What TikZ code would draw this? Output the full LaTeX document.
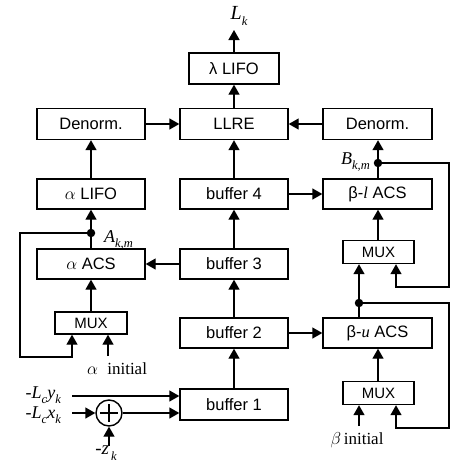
\documentclass[tikz,border=0pt]{standalone}
\usepackage{fontspec}
\setmainfont{Liberation Sans}
\newfontfamily\tms{Liberation Serif}
\usetikzlibrary{arrows.meta}
\newcommand\myv[1]{{\tms\itshape #1}}
\newcommand\mysb[1]{\raisebox{-0.3em}{\fontsize{12.5}{12.5}\selectfont\tms\itshape #1}}
\begin{document}
\begin{tikzpicture}[x=1pt,y=-1pt,
  blk/.style={draw, line width=1.4pt, minimum width=108pt, minimum height=31pt, inner sep=0pt, font=\fontsize{16.5}{18}\selectfont},
  muxbox/.style={draw, line width=1.4pt, minimum width=71pt, minimum height=23pt, inner sep=0pt, font=\fontsize{15}{16}\selectfont},
  arr/.style={-{Triangle[length=10pt,width=11pt]}, line width=1.4pt},
  jdot/.style={circle, fill, inner sep=0pt, minimum size=8.5pt},
  lbl/.style={inner sep=0pt, font=\fontsize{19}{20}\selectfont}]
\useasboundingbox (0,0) rectangle (459,466);

% boxes
\node[blk, minimum width=90pt] (lam) at (234,68.5) {λ LIFO};
\node[blk] (llre) at (234,124) {LLRE};
\node[blk] (denL) at (91,124) {Denorm.};
\node[blk, minimum width=109pt] (denR) at (377.5,124) {Denorm.};
\node[blk, minimum height=30pt] (alifo) at (91,194) {$\alpha$ LIFO};
\node[blk, minimum height=30pt] (buf4) at (234,194) {buffer 4};
\node[blk, minimum width=109pt, minimum height=30pt] (blacs) at (377.5,194) {β-{\tms\itshape l} ACS};
\node[muxbox] (muxU) at (378.5,252) {MUX};
\node[blk, minimum height=30pt] (aacs) at (91,264) {$\alpha$ ACS};
\node[blk, minimum height=30pt] (buf3) at (234,264) {buffer 3};
\node[muxbox, minimum height=22pt, minimum width=72pt] (muxL) at (91,323) {MUX};
\node[blk, minimum height=30pt] (buf2) at (234,333) {buffer 2};
\node[blk, minimum width=109pt, minimum height=30pt] (buacs) at (377.5,333) {β-{\tms\itshape u} ACS};
\node[muxbox] (muxD) at (378.5,393) {MUX};
\node[blk] (buf1) at (234,404.5) {buffer 1};
\node[draw, circle, line width=1.4pt, minimum size=26pt, inner sep=0pt] (sum) at (109,413) {};
\draw[line width=1.4pt] (100,413) -- (118,413) (109,404) -- (109,422);

% labels
\node[lbl, font=\fontsize{20}{20}\selectfont] (Lk) at (239,16) {\myv{L}\mysb{k}};
\coordinate (LkEnd) at (234,30);
\node[lbl, anchor=west, font=\fontsize{18}{20}\selectfont] (Akm) at (104,240) {\myv{A}\mysb{k,m}};
\node[lbl, anchor=east, font=\fontsize{18}{20}\selectfont] (Bkm) at (370,162) {\myv{B}\mysb{k,m}};
\node[lbl, font=\fontsize{17}{18}\selectfont] (ainit) at (117,369) {$\alpha$\ \ {\tms initial}};
\node[lbl, font=\fontsize{17}{18}\selectfont] (binit) at (357,440) {$\beta$\,{\tms initial}};
\node[lbl, anchor=east, font=\fontsize{18}{18}\selectfont] (ylab) at (61,395) {{\tms -}\myv{L}\mysb{c}\myv{y}\mysb{k}};
\node[lbl, anchor=east, font=\fontsize{18}{18}\selectfont] (xlab) at (61,415) {{\tms -}\myv{L}\mysb{c}\myv{x}\mysb{k}};
\node[lbl] (zlab) at (106,453) {{\tms -}\myv{z}\mysb{\,k}};

% junctions
\coordinate (dA) at (91,233);
\coordinate (dB) at (378,163);
\coordinate (dC) at (359,303);

% main arrows
\draw[arr] (lam) -- (LkEnd);
\draw[arr] (llre) -- (lam);
\draw[arr] (denL) -- (llre);
\draw[arr] (denR) -- (llre);
\draw[arr] (alifo) -- (denL);
\draw[arr] (buf4) -- (llre);
\draw[arr] (blacs.north -| dB) -- (denR.south -| dB);
\draw[arr] (aacs) -- (alifo);
\draw[arr] (buf3) -- (buf4);
\draw[arr] (buf4) -- (blacs);
\draw[arr] (buf3) -- (aacs);
\draw[arr] (muxU.north -| dB) -- (blacs.south -| dB);
\draw[arr] (muxL) -- (aacs);
\draw[arr] (buf2) -- (buf3);
\draw[arr] (buf2) -- (buacs);
\draw[arr] (buacs.north -| dC) -- (muxU.south -| dC);
\draw[arr] (muxD.north -| dB) -- (buacs.south -| dB);
\draw[arr] (buf1) -- (buf2);

% feedback loops
\draw[arr] (dA) -- (20,233) -- (20,357) -- (72,357) -- (muxL.south -| 72,0);
\draw[arr] (108,356) -- (muxL.south -| 108,0);
\draw[arr] (dB) -- (449,163) -- (449,287) -- (396,287) -- (muxU.south -| 396,0);
\draw[arr] (dC) -- (449,303) -- (449,428) -- (396,428) -- (muxD.south -| 396,0);
\draw[arr] (359,426) -- (muxD.south -| 359,0);

\node[jdot] at (dA) {};
\node[jdot] at (dB) {};
\node[jdot] at (dC) {};

% inputs
\draw[arr] (72,396) -- (buf1.west |- 0,396);
\draw[arr] (72,413) -- (sum.west);
\draw[arr] (sum.east) -- (buf1.west |- 0,413);
\draw[arr] (109,446) -- (sum.south);
\end{tikzpicture}
\end{document}
